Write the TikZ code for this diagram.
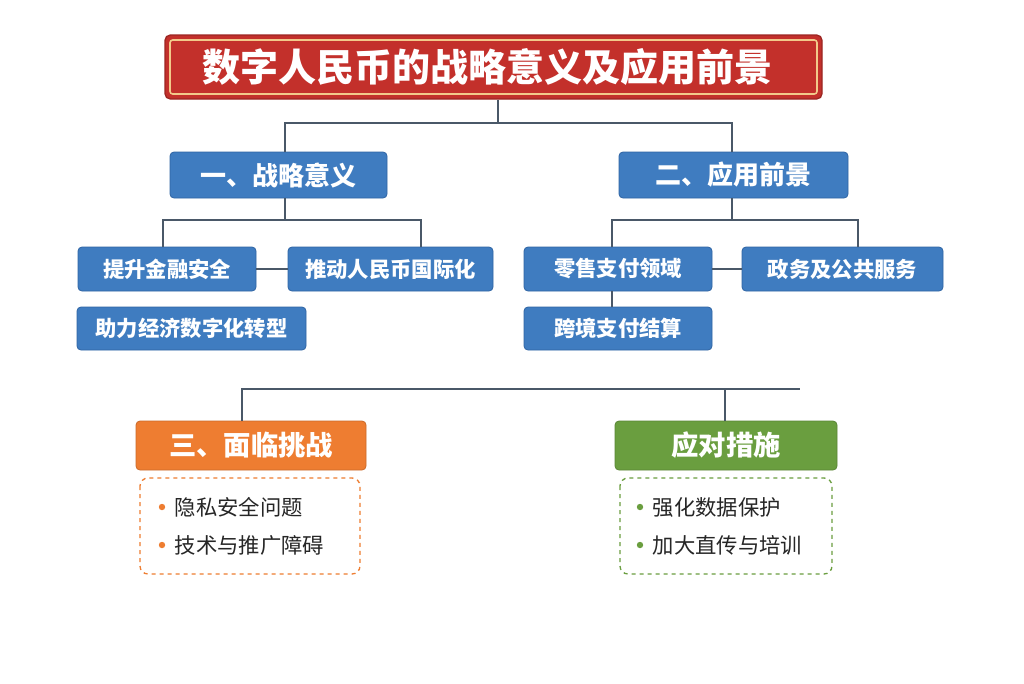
\documentclass[tikz,border=0pt]{standalone}
\usepackage{fontspec}
\setmainfont{Noto Sans CJK SC}
\definecolor{tred}{HTML}{C3302B}
\definecolor{tgold}{HTML}{F2C98A}
\definecolor{blu}{HTML}{3F7CC0}
\definecolor{blud}{HTML}{2F64A3}
\definecolor{org}{HTML}{EE7D31}
\definecolor{grn}{HTML}{6A9E3F}
\definecolor{lin}{HTML}{4A5868}
\begin{document}
\begin{tikzpicture}[x=0.75pt,y=-0.75pt,
  ln/.style={draw=lin,line width=1.6pt},
  bx/.style={rounded corners=3pt,fill=blu,draw=blud,line width=0.6pt,text=white,font=\fontsize{16}{18}\selectfont\bfseries},
  big/.style={bx,font=\fontsize{19.5}{22}\selectfont\bfseries},
  dsh/.style={rounded corners=6pt,dashed,line width=1pt,fill=white},
  it/.style={anchor=west,font=\fontsize{16}{18}\selectfont,text=black!85}]
\useasboundingbox (0,0) rectangle (1024,683);
\fill[white] (0,0) rectangle (1024,683);
% title
\node[fill=tred,draw=tred!80!black,line width=1pt,rounded corners=4pt,minimum width=657*0.75pt,minimum height=64*0.75pt] (t) at (493.5,67) {};
\draw[tgold,line width=1.2pt,rounded corners=2pt] (170,40) rectangle (817,94);
\node[text=white,font=\fontsize{28.5}{32}\selectfont\bfseries] at (487,67) {数字人民币的战略意义及应用前景};
% level 1
\node[big,minimum width=217*0.75pt,minimum height=46*0.75pt] (a) at (278.5,175) {一、战略意义};
\node[big,minimum width=229*0.75pt,minimum height=46*0.75pt] (b) at (733.5,175) {二、应用前景};
\coordinate (j1) at (498,123);
\draw[ln] (t.south -| j1) -- (j1);
\draw[ln] (a.north -| 285,0) |- (j1) -| (b.north -| 732,0);
% level 2
\node[bx,minimum width=178*0.75pt,minimum height=44*0.75pt] (a1) at (167,269) {提升金融安全};
\node[bx,minimum width=205*0.75pt,minimum height=44*0.75pt] (a2) at (390.5,269) {推动人民币国际化};
\node[bx,minimum width=229*0.75pt,minimum height=43*0.75pt] (a3) at (191.5,328.5) {助力经济数字化转型};
\node[bx,minimum width=188*0.75pt,minimum height=44*0.75pt] (b1) at (618,269) {零售支付领域};
\node[bx,minimum width=201*0.75pt,minimum height=44*0.75pt] (b2) at (842.5,269) {政务及公共服务};
\node[bx,minimum width=188*0.75pt,minimum height=43*0.75pt] (b3) at (618,328.5) {跨境支付结算};
\coordinate (k1) at (285,220);
\coordinate (k2) at (732,220);
\draw[ln] (a.south -| k1) -- (k1);
\draw[ln] (a1.north -| 163,0) |- (k1) -| (a2.north -| 421,0);
\draw[ln] (b.south -| k2) -- (k2);
\draw[ln] (b1.north -| 612,0) |- (k2) -| (b2.north -| 858,0);
\draw[ln] (a1.east) -- (a2.west);
\draw[ln] (b1.east) -- (b2.west);
\draw[ln] (b1.south -| 612,0) -- (b3.north -| 612,0);
% level 3
\node[bx,fill=org,draw=org!85!black,minimum width=230*0.75pt,minimum height=49*0.75pt,font=\fontsize{20.5}{23}\selectfont\bfseries] (c) at (251,445.5) {三、面临挑战};
\node[bx,fill=grn,draw=grn!85!black,minimum width=222*0.75pt,minimum height=49*0.75pt,font=\fontsize{20.5}{23}\selectfont\bfseries] (d) at (726,445.5) {应对措施};
\coordinate (m1) at (242,389);
\coordinate (m2) at (800,389);
\draw[ln] (c.north -| m1) -- (m1) -- (m2);
\draw[ln] (d.north -| 725,0) -- (725,389);
\draw[dsh,draw=org] (140,478) rectangle (360,574);
\draw[dsh,draw=grn] (620,478) rectangle (832,574);
\fill[org] (162,507) circle (3.2);
\fill[org] (162,545) circle (3.2);
\fill[grn] (640,507) circle (3.2);
\fill[grn] (640,545) circle (3.2);
\node[it] at (170,507) {隐私安全问题};
\node[it] at (170,545) {技术与推广障碍};
\node[it] at (648,507) {强化数据保护};
\node[it] at (648,545) {加大直传与培训};
\end{tikzpicture}
\end{document}
